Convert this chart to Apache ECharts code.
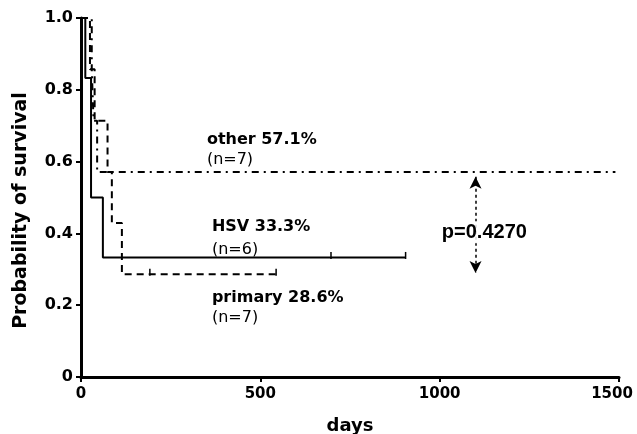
<!DOCTYPE html>
<html>
<head>
<meta charset="utf-8">
<script src="https://cdn.jsdelivr.net/npm/echarts@6/dist/echarts.min.js"></script>
<style>html,body{margin:0;padding:0;background:#fff;}#c{width:637px;height:434px;}</style>
</head>
<body>
<div id="c"></div>
<script>
// Kaplan-Meier step data (event times in days, survival after event)
const hsvTimes = [0, 12, 28, 61, 905];
const hsvSurv = [1, 0.833, 0.5, 0.333, 0.333];
const primaryTimes = [0, 25, 38, 74, 86, 114, 544];
const primarySurv = [1, 0.857, 0.714, 0.571, 0.429, 0.286, 0.286];
const otherTimes = [0, 30, 35, 45, 1490];
const otherSurv = [1, 0.857, 0.714, 0.571, 0.571];
const hsvCensor = [697, 905];
const primaryCensor = [192, 544];
const xTicks = [0, 500, 1000, 1500];
const yTicks = [0, 0.2, 0.4, 0.6, 0.8, 1.0];
// annotation texts: [day, prob, text]
const labelsBold = [[351, 0.661, 'other 57.1%'], [365, 0.418, 'HSV 33.3%'], [365, 0.22, 'primary 28.6%']];
const labelsN = [[351, 0.606, '(n=7)'], [365, 0.355, '(n=6)'], [365, 0.165, '(n=7)']];
const pLabel = [[1006, 0.403, 'p=0.4270']];
const arrowX = 1100, arrowTop = 0.558, arrowBottom = 0.29;

function steps(t, s) {
  const out = [[t[0], s[0]]];
  for (let i = 1; i < t.length; i++) {
    out.push([t[i], s[i - 1]]);
    out.push([t[i], s[i]]);
  }
  return out;
}
function censorPts(times, t, s) {
  return times.map(c => {
    let v = s[0];
    for (let i = 0; i < t.length; i++) if (t[i] <= c) v = s[i];
    return [c, v];
  });
}
const chart = echarts.init(document.getElementById('c'), null, {renderer: 'canvas'});
const black = '#000';
const textSeries = (arr, font) => ({
  type: 'scatter', symbolSize: 0, silent: true, z: 10,
  itemStyle: {opacity: 1},
  data: arr.map(d => ({value: [d[0], d[1]], name: d[2]})),
  label: Object.assign({show: true, position: 'right', distance: 0, color: black, opacity: 1,
    formatter: p => p.name, align: 'left', verticalAlign: 'middle'}, font)
});
const tickFont = {fontFamily: 'DejaVu Sans', fontWeight: 'bold', fontSize: 15, color: black};
chart.setOption({
  animation: false,
  backgroundColor: '#fff',
  grid: {left: 81, right: 18, top: 18, bottom: 57, containLabel: false, outerBoundsMode: 'none'},
  xAxis: {
    type: 'value', min: 0, max: 1500, interval: 500,
    name: 'days', nameLocation: 'middle', nameGap: 40,
    nameTextStyle: {fontFamily: 'DejaVu Sans', fontWeight: 'bold', fontSize: 18, color: black},
    axisLine: {show: true, onZero: false, lineStyle: {color: black, width: 3}},
    axisTick: {show: true, length: 5, lineStyle: {color: black, width: 2}},
    axisLabel: Object.assign({margin: 10,
      formatter: v => !xTicks.includes(v) ? '' : (v === xTicks[xTicks.length - 1] ? '{r|' + v + '}' : String(v)),
      rich: {r: Object.assign({padding: [0, 14, 0, 0]}, tickFont)}}, tickFont),
    splitLine: {show: false}
  },
  yAxis: {
    type: 'value', min: 0, max: 1.0, interval: 0.2,
    name: 'Probability of survival', nameLocation: 'middle', nameGap: 50,
    nameTextStyle: {fontFamily: 'DejaVu Sans', fontWeight: 'bold', fontSize: 19, color: black,
      padding: [0, 26, 0, 0]},
    axisLine: {show: true, onZero: false, lineStyle: {color: black, width: 3}},
    axisTick: {show: true, length: 5, lineStyle: {color: black, width: 2}},
    axisLabel: {fontFamily: 'DejaVu Sans', fontWeight: 'bold', fontSize: 16, color: black, margin: 8,
      formatter: v => { const t = yTicks.find(y => Math.abs(y - v) < 1e-6); return t === undefined ? '' : (t === 0 ? '0' : t.toFixed(1)); }},
    splitLine: {show: false}
  },
  series: [
    {name: 'HSV', type: 'line', data: steps(hsvTimes, hsvSurv), symbol: 'none',
     lineStyle: {color: black, width: 2, type: 'solid'}, z: 3},
    {name: 'primary', type: 'line', data: steps(primaryTimes, primarySurv), symbol: 'none',
     lineStyle: {color: black, width: 2, type: [7, 5]}, z: 3},
    {name: 'other', type: 'line', data: steps(otherTimes, otherSurv), symbol: 'none',
     lineStyle: {color: black, width: 2, type: [7, 5, 2, 5]}, z: 3,
     markLine: {silent: true, symbol: ['arrow', 'arrow'], symbolSize: [9, 12], precision: 3,
       label: {show: false},
       lineStyle: {color: black, width: 1.5, type: [3, 3]},
       data: [[{coord: [arrowX, arrowTop]}, {coord: [arrowX, arrowBottom]}]]}},
    {type: 'scatter', data: censorPts(hsvCensor, hsvTimes, hsvSurv), symbol: 'rect', symbolSize: [1.5, 7],
     symbolOffset: [0, -2], itemStyle: {color: black, opacity: 1}, silent: true},
    {type: 'scatter', data: censorPts(primaryCensor, primaryTimes, primarySurv), symbol: 'rect', symbolSize: [1.5, 7],
     symbolOffset: [0, -2], itemStyle: {color: black, opacity: 1}, silent: true},
    textSeries(labelsBold, {fontFamily: 'DejaVu Sans', fontWeight: 'bold', fontSize: 16}),
    textSeries(labelsN, {fontFamily: 'DejaVu Sans', fontWeight: 'normal', fontSize: 16}),
    textSeries(pLabel, {fontFamily: 'Liberation Sans', fontWeight: 'bold', fontSize: 20,
      backgroundColor: 'rgba(255,255,255,0.85)', padding: [1, 0]})
  ]
});
</script>
</body>
</html>
